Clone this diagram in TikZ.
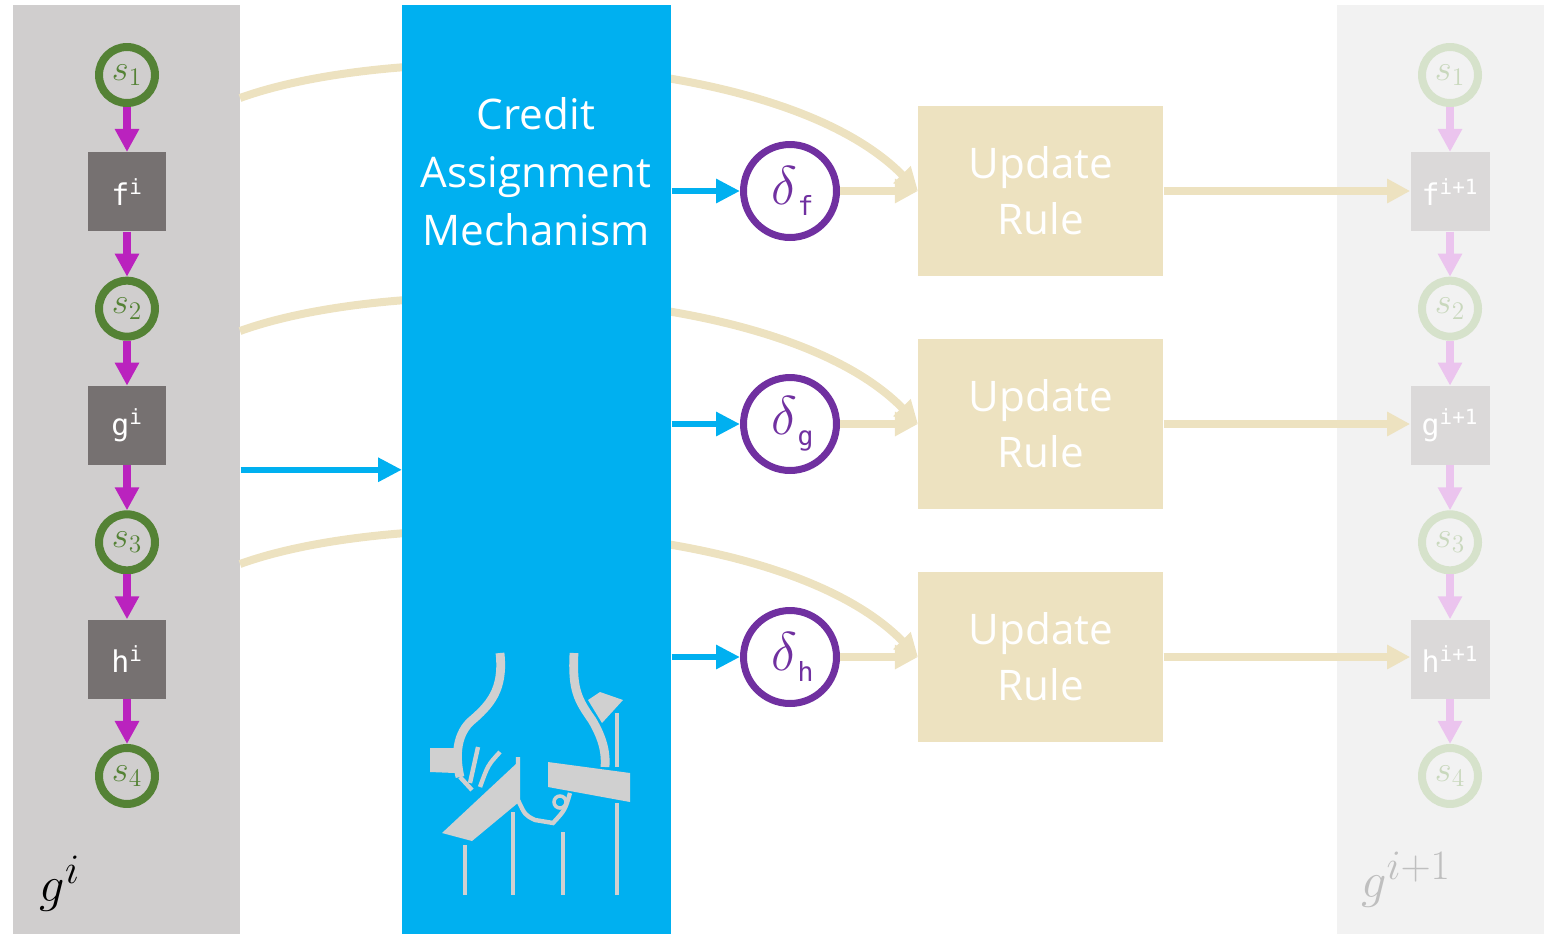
\documentclass[tikz,border=0pt]{standalone}
\usepackage{fontspec}
\newfontfamily\uifont{Open Sans}
\newfontfamily\codefont{DejaVu Sans Mono}
\usetikzlibrary{arrows.meta,positioning,calc}
\definecolor{colgray}{HTML}{D0CECE}
\definecolor{colpale}{HTML}{F2F2F2}
\definecolor{camblue}{HTML}{00B0F0}
\definecolor{stategreen}{HTML}{548235}
\definecolor{fadegreen}{HTML}{D6E2CB}
\definecolor{fadetext}{HTML}{C9D8BD}
\definecolor{flowmagenta}{HTML}{BA22BE}
\definecolor{fademagenta}{HTML}{EBC4EE}
\definecolor{layerdark}{HTML}{767171}
\definecolor{layerfade}{HTML}{DBD9D9}
\definecolor{deltapurple}{HTML}{7030A0}
\definecolor{ruletan}{HTML}{EDE2C0}
\definecolor{handgray}{HTML}{D0D0D0}
\definecolor{labelgray}{HTML}{BFBFBF}
\tikzset{
    %Define style for the layer columns
    column/.style={
           rectangle,
           inner sep=0pt,
           minimum height=18.58cm},
    %Define style for state circles
    state/.style={
           circle,
           draw=stategreen, line width=0.16cm,
           minimum size=1.12cm,
           inner sep=0pt,
           text=stategreen,
           font=\fontsize{20.74}{21}\selectfont},
    faded/.style={
           draw=fadegreen,
           text=fadetext},
    %Define style for layer boxes
    layer/.style={
           rectangle,
           fill=layerdark,
           minimum size=1.58cm,
           inner sep=0pt,
           text=white,
           font=\codefont\fontsize{17}{17}\selectfont},
    % Define arrow styles
    flow/.style={
           -{Triangle[width=0.46cm,length=0.46cm]},
           draw=flowmagenta,
           line width=0.16cm},
    credit/.style={
           -{Triangle[width=0.46cm,length=0.48cm]},
           draw=camblue,
           line width=0.13cm},
    apply/.style={
           -{Triangle[width=0.46cm,length=0.46cm]},
           draw=ruletan,
           line width=0.15cm},
    feedback/.style={
           -{Triangle[width=0.46cm,length=0.46cm]},
           draw=ruletan,
           line width=0.16cm},
    % Node for the error signals
    delta/.style={
           circle,
           draw=deltapurple, line width=0.14cm,
           fill=white,
           minimum size=1.86cm,
           inner sep=0pt,
           text=deltapurple,
           font=\fontsize{24.88}{25}\selectfont},
    % Node for the update rules
    rule/.style={
           rectangle,
           fill=ruletan,
           minimum width=4.9cm,
           minimum height=3.4cm,
           text=white,
           align=center,
           font=\uifont\fontsize{24}{32}\selectfont}
}
% error signal with a code-font subscript
\newcommand{\dsub}[1]{\hspace{3pt}\scalebox{1.25}{$\delta$}\raisebox{-6pt}{\codefont\fontsize{15}{15}\selectfont #1}}
\begin{document}
\begin{tikzpicture}[x=0.02cm, y=-0.02cm, node distance=0.9cm]
    \useasboundingbox (0,0) rectangle (1544,934);
    % the two layer columns
    \node[column, fill=colgray, minimum width=4.54cm, anchor=north west] (gi) at (13,5) {};
    \node[column, fill=colpale, minimum width=4.14cm, anchor=north west] (gnext) at (1337,5) {};

    % error signals and update rules
    \node[delta] (df) at (790,191) {\dsub{f}};
    \node[delta] (dg) at (790,424) {\dsub{g}};
    \node[delta] (dh) at (790,657) {\dsub{h}};
    \node[rule, right=1.56cm of df] (uf) {Update\\Rule};
    \node[rule, right=1.56cm of dg] (ug) {Update\\Rule};
    \node[rule, right=1.56cm of dh] (uh) {Update\\Rule};

    % states fed back to the update rules
    \coordinate (tap1) at (240,98);
    \coordinate (tap2) at (240,331);
    \coordinate (tap3) at (240,564);
    \draw[feedback] (tap1) .. controls (400,40) and (780,50) .. (uf.west);
    \draw[feedback] (tap2) .. controls (400,273) and (780,283) .. (ug.west);
    \draw[feedback] (tap3) .. controls (400,506) and (780,516) .. (uh.west);

    % credit assignment block
    \node[column, fill=camblue, minimum width=5.38cm, anchor=north west] (cam) at (402,5) {};
    \node[text=white, align=center, font=\uifont\fontsize{24}{33}\selectfont] (camlabel) at (536,172)
        {Credit\\Assignment\\Mechanism};

    % hands icon
    \begin{scope}[handgray]
        \fill (430,748) -- (455,748) -- (455,773) -- (430,772) -- cycle;
        \fill (442,833) -- (517,763) -- (519,802) -- (472,841) -- cycle;
        \fill (548,762) -- (630,773) -- (630,802) -- (548,787) -- cycle;
        \fill (588,700) -- (600,692) -- (623,700) -- (602,723) -- cycle;
        \draw[line width=5pt] (500,653) .. controls (504,690) and (490,705) .. (470,722)
            .. controls (455,737) and (456,760) .. (460,777);
        \draw[line width=5pt] (574,653) .. controls (572,690) and (578,700) .. (592,720)
            .. controls (604,740) and (606,755) .. (605,767);
        \draw[line width=2.5pt] (478,747) -- (470,783);
        \draw[line width=2.5pt] (500,752) .. controls (488,765) .. (480,787);
        \draw[line width=2.5pt] (460,777) -- (472,790);
        \draw[line width=2.5pt] (518,757) -- (518,800) .. controls (525,815) .. (535,820)
            -- (553,823) .. controls (565,810) .. (570,793);
        \draw[line width=2pt] (560,802) circle (6);
        \draw[line width=2.5pt] (465,845) -- (465,895);
        \draw[line width=2.5pt] (513,812) -- (513,895);
        \draw[line width=2.5pt] (563,832) -- (563,895);
        \draw[line width=2.5pt] (617,713) -- (617,767);
        \draw[line width=2.5pt] (617,803) -- (617,895);
    \end{scope}

    % current network
    \node[state] (s1) at (127,75) {$s_1$};
    \node[layer, below=of s1] (f) {f\textsuperscript{i}};
    \node[state, below=of f] (s2) {$s_2$};
    \node[layer, below=of s2] (g) {g\textsuperscript{i}};
    \node[state, below=of g] (s3) {$s_3$};
    \node[layer, below=of s3] (h) {h\textsuperscript{i}};
    \node[state, below=of h] (s4) {$s_4$};
    \draw[flow] (s1) -- (f);
    \draw[flow] (f) -- (s2);
    \draw[flow] (s2) -- (g);
    \draw[flow] (g) -- (s3);
    \draw[flow] (s3) -- (h);
    \draw[flow] (h) -- (s4);
    \node[font=\fontsize{24.88}{25}\selectfont] (gilabel) at (60,884) {\scalebox{1.15}{$g^i$}};

    % updated network
    \node[state, faded] (t1) at (1450,75) {$s_1$};
    \node[layer, fill=layerfade, below=of t1] (fn) {f\textsuperscript{i+1}};
    \node[state, faded, below=of fn] (t2) {$s_2$};
    \node[layer, fill=layerfade, below=of t2] (gn) {g\textsuperscript{i+1}};
    \node[state, faded, below=of gn] (t3) {$s_3$};
    \node[layer, fill=layerfade, below=of t3] (hn) {h\textsuperscript{i+1}};
    \node[state, faded, below=of hn] (t4) {$s_4$};
    \draw[flow, draw=fademagenta] (t1) -- (fn);
    \draw[flow, draw=fademagenta] (fn) -- (t2);
    \draw[flow, draw=fademagenta] (t2) -- (gn);
    \draw[flow, draw=fademagenta] (gn) -- (t3);
    \draw[flow, draw=fademagenta] (t3) -- (hn);
    \draw[flow, draw=fademagenta] (hn) -- (t4);
    \node[text=labelgray, font=\fontsize{24.88}{25}\selectfont] (gnlabel) at (1406,880) {\scalebox{1.15}{$g^{i+1}$}};

    % network into the credit assignment block
    \draw[credit] (gi.east |- cam.center) -- (cam.west);
    \draw[credit] (cam.east |- df) -- (df);
    \draw[credit] (cam.east |- dg) -- (dg);
    \draw[credit] (cam.east |- dh) -- (dh);

    % error signals into the rules, rules into the new layers
    \draw[apply] (df) -- (uf.west);
    \draw[apply] (dg) -- (ug.west);
    \draw[apply] (dh) -- (uh.west);
    \draw[apply] (uf.east) -- (uf.east -| fn.west);
    \draw[apply] (ug.east) -- (ug.east -| gn.west);
    \draw[apply] (uh.east) -- (uh.east -| hn.west);
\end{tikzpicture}
\end{document}
